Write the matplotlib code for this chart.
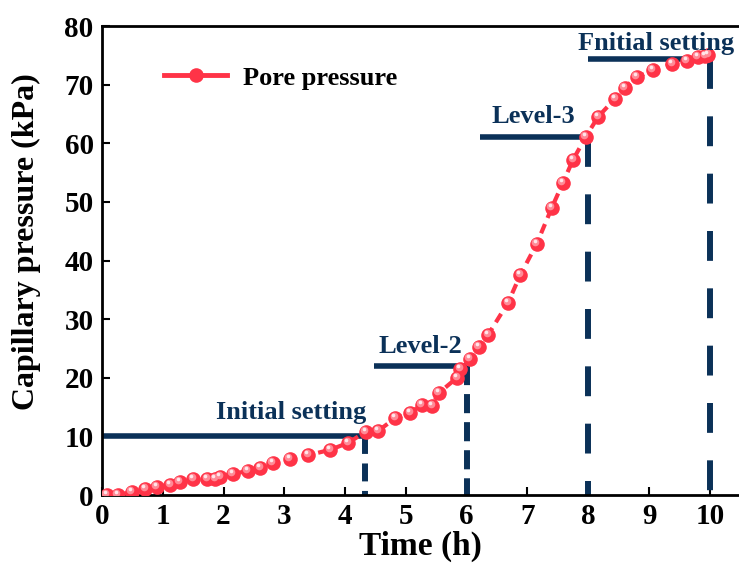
import matplotlib
matplotlib.use("Agg")
import matplotlib.pyplot as plt
from matplotlib.transforms import offset_copy
from matplotlib.lines import Line2D

time_h = [0.08, 0.26, 0.49, 0.71, 0.90, 1.12, 1.28, 1.50, 1.73, 1.86, 1.94, 2.15,
          2.40, 2.60, 2.81, 3.09, 3.39, 3.75, 4.05, 4.34, 4.54, 4.82, 5.07, 5.26,
          5.43, 5.54, 5.84, 5.89, 6.05, 6.20, 6.35, 6.68, 6.88, 7.15, 7.40, 7.58,
          7.75, 7.96, 8.16, 8.44, 8.60, 8.80, 9.06, 9.38, 9.62, 9.80, 9.92, 9.97]
pressure = [0.0, 0.0, 0.5, 1.0, 1.4, 1.7, 2.2, 2.7, 2.7, 2.7, 3.1, 3.6,
            4.1, 4.6, 5.5, 6.1, 6.8, 7.7, 8.9, 10.8, 10.9, 13.1, 14.0, 15.4,
            15.2, 17.4, 20.0, 21.5, 23.2, 25.3, 27.3, 32.8, 37.5, 42.8, 49.0, 53.2,
            57.2, 61.1, 64.5, 67.6, 69.5, 71.3, 72.5, 73.5, 74.1, 74.7, 74.9, 75.1]

level_names = ["Initial setting", "Level-2", "Level-3", "Fnitial setting"]
level_y = [10.0, 22.0, 61.0, 74.4]
level_x_start = [0.0, 4.48, 6.22, 8.0]
level_x_end = [4.33, 6.0, 8.0, 10.0]
level_label_x = [3.11, 5.23, 7.1, 9.11]
level_label_y = [12.9, 24.3, 63.4, 76.0]

navy = "#0b3158"
red = "#ff3347"

plt.rcParams['font.family'] = ['Liberation Serif', 'DejaVu Serif']
plt.rcParams['font.weight'] = 'bold'

fig = plt.figure(figsize=(7.39, 5.74), dpi=100)
ax = fig.add_axes([0.138, 0.1376, 0.862, 0.817])

dash_styles = [(0, (3.0, 1.6)), (0, (3.2, 1.5)), (0, (5.0, 4.6)), (0, (5.0, 4.6))]
for i in range(len(level_names)):
    ax.plot([level_x_start[i], level_x_end[i]], [level_y[i], level_y[i]],
            color=navy, lw=4.0, solid_capstyle='butt', zorder=2)
    ax.plot([level_x_end[i], level_x_end[i]], [level_y[i], 0], color=navy,
            lw=4.3, linestyle=dash_styles[i], dash_capstyle='butt', zorder=2,
            clip_on=False)
    ax.text(level_label_x[i], level_label_y[i], level_names[i], color=navy,
            fontsize=19, fontweight='bold', ha='center', va='baseline', zorder=4)

ax.plot(time_h, pressure, color=red, lw=3.0, linestyle=(0, (2.4, 1.6)),
        marker='o', markersize=10.5, markerfacecolor=red, markeredgecolor=red,
        markeredgewidth=0, zorder=3)
# highlight on spheres
tr1 = offset_copy(ax.transData, fig=fig, x=-1.0, y=1.5, units='points')
ax.plot(time_h, pressure, linestyle='none', marker='o', markersize=5.5,
        markerfacecolor='#ff8a96', markeredgewidth=0, transform=tr1, zorder=3.1)
tr2 = offset_copy(ax.transData, fig=fig, x=-1.3, y=2.0, units='points')
ax.plot(time_h, pressure, linestyle='none', marker='o', markersize=2.6,
        markerfacecolor='#ffe6ea', markeredgewidth=0, transform=tr2, zorder=3.2)

ax.set_xlim(0, 10.48)
ax.set_ylim(0, 80)
ax.set_xticks(range(0, 11))
ax.set_yticks(range(0, 81, 10))
ax.tick_params(direction='in', length=6, width=1.5, labelsize=21, pad=6)
for lab in ax.get_xticklabels() + ax.get_yticklabels():
    lab.set_fontweight('bold')
ax.spines['right'].set_visible(False)
for s in ['left', 'bottom', 'top']:
    ax.spines[s].set_linewidth(2.0)

ax.set_xlabel('Time (h)', fontsize=24, fontweight='bold', labelpad=0)
ax.set_ylabel('Capillary pressure (kPa)', fontsize=23, fontweight='bold')
ax.yaxis.set_label_coords(-0.096, 0.54)

handle = Line2D([], [], color=red, lw=3.5, marker='o', markersize=10.5,
                markerfacecolor=red, markeredgewidth=0)
leg = ax.legend([handle], ['Pore pressure'], loc='upper left',
                bbox_to_anchor=(0.06, 0.965), frameon=False, handlelength=2.4,
                handletextpad=0.6, prop={'weight': 'bold', 'size': 19})

fig.savefig('out.png', dpi=100)
